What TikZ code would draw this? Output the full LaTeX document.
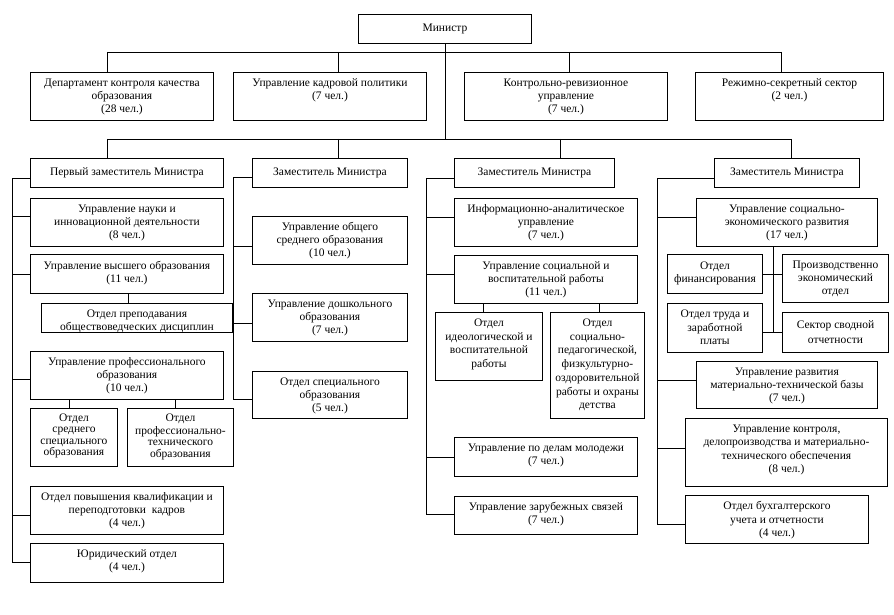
\documentclass[tikz,border=0pt]{standalone}
\usepackage{fontspec}
\setmainfont{Liberation Serif}
\tikzset{
  bx/.style={draw, line width=0.9pt, inner sep=0pt, font=\fontsize{11.5}{13}\selectfont},
  ln/.style={line width=0.9pt}
}
\newcommand\mkbox[7][5]{%
  \pgfmathsetmacro\bw{#5-#3}%
  \pgfmathsetmacro\bh{#6-#4}%
  \node[bx, minimum width=\bw pt, minimum height=\bh pt, anchor=north west] (#2) at (#3,#4)
    {\parbox[c][\bh pt][t]{\bw pt}{\hyphenpenalty=10000\exhyphenpenalty=10000\centering\vspace*{#1pt}\strut #7\par}};}
\begin{document}
\begin{tikzpicture}[x=1pt,y=-1pt]
\fill[white] (0,0) rectangle (894,615);
\useasboundingbox (0,0) rectangle (894,615);
% top level
\mkbox[8]{min}{358}{14}{531}{43}{Министр}
\mkbox{dept}{30}{72}{213}{120}{Департамент контроля качества\\образования\\(28 чел.)}
\mkbox{kadr}{233}{72}{426}{120}{Управление кадровой политики\\(7 чел.)}
\mkbox{kru}{464}{72}{667}{120}{Контрольно-ревизионное\\управление\\(7 чел.)}
\mkbox{rss}{695}{72}{883}{120}{Режимно-секретный сектор\\(2 чел.)}
% deputies
\mkbox[8]{d1}{30}{158}{223}{187}{Первый заместитель Министра}
\mkbox[8]{d2}{252}{158}{407}{187}{Заместитель Министра}
\mkbox[8]{d3}{454}{158}{614}{187}{Заместитель Министра}
\mkbox[8]{d4}{714}{158}{859}{187}{Заместитель Министра}
% column 1
\mkbox{nauka}{30}{198}{223}{246}{Управление науки и\\инновационной деятельности\\(8 чел.)}
\mkbox[6]{vyssh}{30}{254}{223}{293}{Управление высшего образования\\(11 чел.)}
\mkbox{prep}{41}{303}{232}{332}{Отдел преподавания\\обществоведческих дисциплин}
\mkbox{prof}{30}{351}{223}{399}{Управление профессионального\\образования\\(10 чел.)}
\mkbox[4]{ssp}{30}{408}{117}{466}{\fontsize{11.5}{11.3}\selectfont Отдел\\среднего\\специального\\образования}
\mkbox[4]{pt}{127}{408}{233}{466}{\fontsize{11.5}{11.3}\selectfont Отдел\\профессионально-\\технического\\образования}
\mkbox{kval}{30}{486}{223}{534}{Отдел повышения квалификации и\\переподготовки~ кадров\\(4 чел.)}
\mkbox{yur}{30}{543}{223}{582}{Юридический отдел\\(4 чел.)}
% column 2
\mkbox{obsh}{252}{216}{407}{264}{Управление общего\\среднего образования\\(10 чел.)}
\mkbox{dosh}{252}{293}{407}{341}{Управление дошкольного\\образования\\(7 чел.)}
\mkbox{spec}{252}{371}{407}{418}{Отдел специального\\образования\\(5 чел.)}
% column 3
\mkbox{inf}{454}{198}{637}{246}{Информационно-аналитическое\\управление\\(7 чел.)}
\mkbox{soc}{454}{255}{637}{303}{Управление социальной и\\воспитательной работы\\(11 чел.)}
\mkbox{ideo}{435}{312}{542}{380}{\fontsize{11.5}{13.7}\selectfont Отдел\\идеологической и\\воспитательной\\работы}
\mkbox{sped}{550}{312}{644}{418}{\fontsize{11.5}{13.7}\selectfont Отдел\\социально-\\педагогической,\\физкультурно-\\оздоровительной\\работы и охраны\\детства}
\mkbox{mol}{454}{437}{637}{476}{Управление по делам молодежи\\(7 чел.)}
\mkbox{zar}{454}{496}{637}{534}{Управление зарубежных связей\\(7 чел.)}
% column 4
\mkbox{sed}{696}{198}{877}{246}{Управление социально-\\экономического развития\\(17 чел.)}
\mkbox[6]{fin}{667}{254}{762}{293}{Отдел\\финансирования}
\mkbox{pr}{782}{254}{888}{302}{Производственно\\экономический\\отдел}
\mkbox{tr}{667}{303}{762}{352}{\fontsize{11.5}{13.5}\selectfont Отдел труда и\\заработной\\платы}
\mkbox[7]{sv}{782}{312}{888}{352}{\fontsize{11.5}{14.5}\selectfont Сектор сводной\\отчетности}
\mkbox{mtb}{696}{361}{877}{408}{Управление развития\\материально-технической базы\\(7 чел.)}
\mkbox{kdp}{685}{418}{887}{486}{\fontsize{11.5}{13.3}\selectfont Управление контроля,\\делопроизводства и материально-\\технического обеспечения\\(8 чел.)}
\mkbox{buh}{685}{495}{868}{543}{\fontsize{11.5}{13.5}\selectfont Отдел бухгалтерского\\учета и отчетности\\(4 чел.)}
% ---------- connectors ----------
\coordinate (b1a) at (107,52); \coordinate (b1b) at (338,52);
\coordinate (b1c) at (569,52); \coordinate (b1d) at (781,52);
\coordinate (b2a) at (107,139); \coordinate (b2b) at (338,139);
\coordinate (b2c) at (560,139); \coordinate (b2d) at (791,139);
\draw[ln] (min.south) -- (min.south |- b2a);
\draw[ln] (b1a) -- (b1d);
\draw[ln] (b1a) -- (b1a |- dept.north);
\draw[ln] (b1b) -- (b1b |- kadr.north);
\draw[ln] (b1c) -- (b1c |- kru.north);
\draw[ln] (b1d) -- (b1d |- rss.north);
\draw[ln] (b2a) -- (b2d);
\draw[ln] (b2a) -- (b2a |- d1.north);
\draw[ln] (b2b) -- (b2b |- d2.north);
\draw[ln] (b2c) -- (b2c |- d3.north);
\draw[ln] (b2d) -- (b2d |- d4.north);
% column 1
\coordinate (s1) at (12,178); \coordinate (s1e) at (12,562);
\draw[ln] (d1.west |- s1) -- (s1) -- (s1e) -- (yur.west |- s1e);
\draw[ln] (s1 |- 0,216) -- (nauka.west |- 0,216);
\draw[ln] (s1 |- 0,274) -- (vyssh.west |- 0,274);
\draw[ln] (s1 |- 0,379) -- (prof.west |- 0,379);
\draw[ln] (s1 |- 0,515) -- (kval.west |- 0,515);
\draw[ln] (vyssh.south -| 128,0) -- (prep.north -| 128,0);
\draw[ln] (prof.south -| 69,0) -- (ssp.north -| 69,0);
\draw[ln] (prof.south -| 175,0) -- (pt.north -| 175,0);
% column 2
\coordinate (s2) at (233,177); \coordinate (s2e) at (233,399);
\draw[ln] (d2.west |- s2) -- (s2) -- (s2e) -- (spec.west |- s2e);
\draw[ln] (s2 |- 0,246) -- (obsh.west |- 0,246);
\draw[ln] (s2 |- 0,323) -- (dosh.west |- 0,323);
% column 3
\coordinate (s3) at (426,178); \coordinate (s3e) at (426,514);
\draw[ln] (d3.west |- s3) -- (s3) -- (s3e) -- (zar.west |- s3e);
\draw[ln] (s3 |- 0,217) -- (inf.west |- 0,217);
\draw[ln] (s3 |- 0,274) -- (soc.west |- 0,274);
\draw[ln] (s3 |- 0,457) -- (mol.west |- 0,457);
\draw[ln] (soc.south -| 483,0) -- (ideo.north -| 483,0);
\draw[ln] (soc.south -| 599,0) -- (sped.north -| 599,0);
% column 4
\coordinate (s4) at (657,178); \coordinate (s4e) at (657,524);
\draw[ln] (d4.west |- s4) -- (s4) -- (s4e) -- (buh.west |- s4e);
\draw[ln] (s4 |- 0,217) -- (sed.west |- 0,217);
\draw[ln] (s4 |- 0,380) -- (mtb.west |- 0,380);
\draw[ln] (s4 |- 0,448) -- (kdp.west |- 0,448);
\coordinate (c4j) at (773,332);
\draw[ln] (sed.south -| c4j) -- (c4j);
\draw[ln] (fin.east |- 0,274) -- (pr.west |- 0,274);
\draw[ln] (tr.east |- c4j) -- (sv.west |- c4j);
\end{tikzpicture}
\end{document}
